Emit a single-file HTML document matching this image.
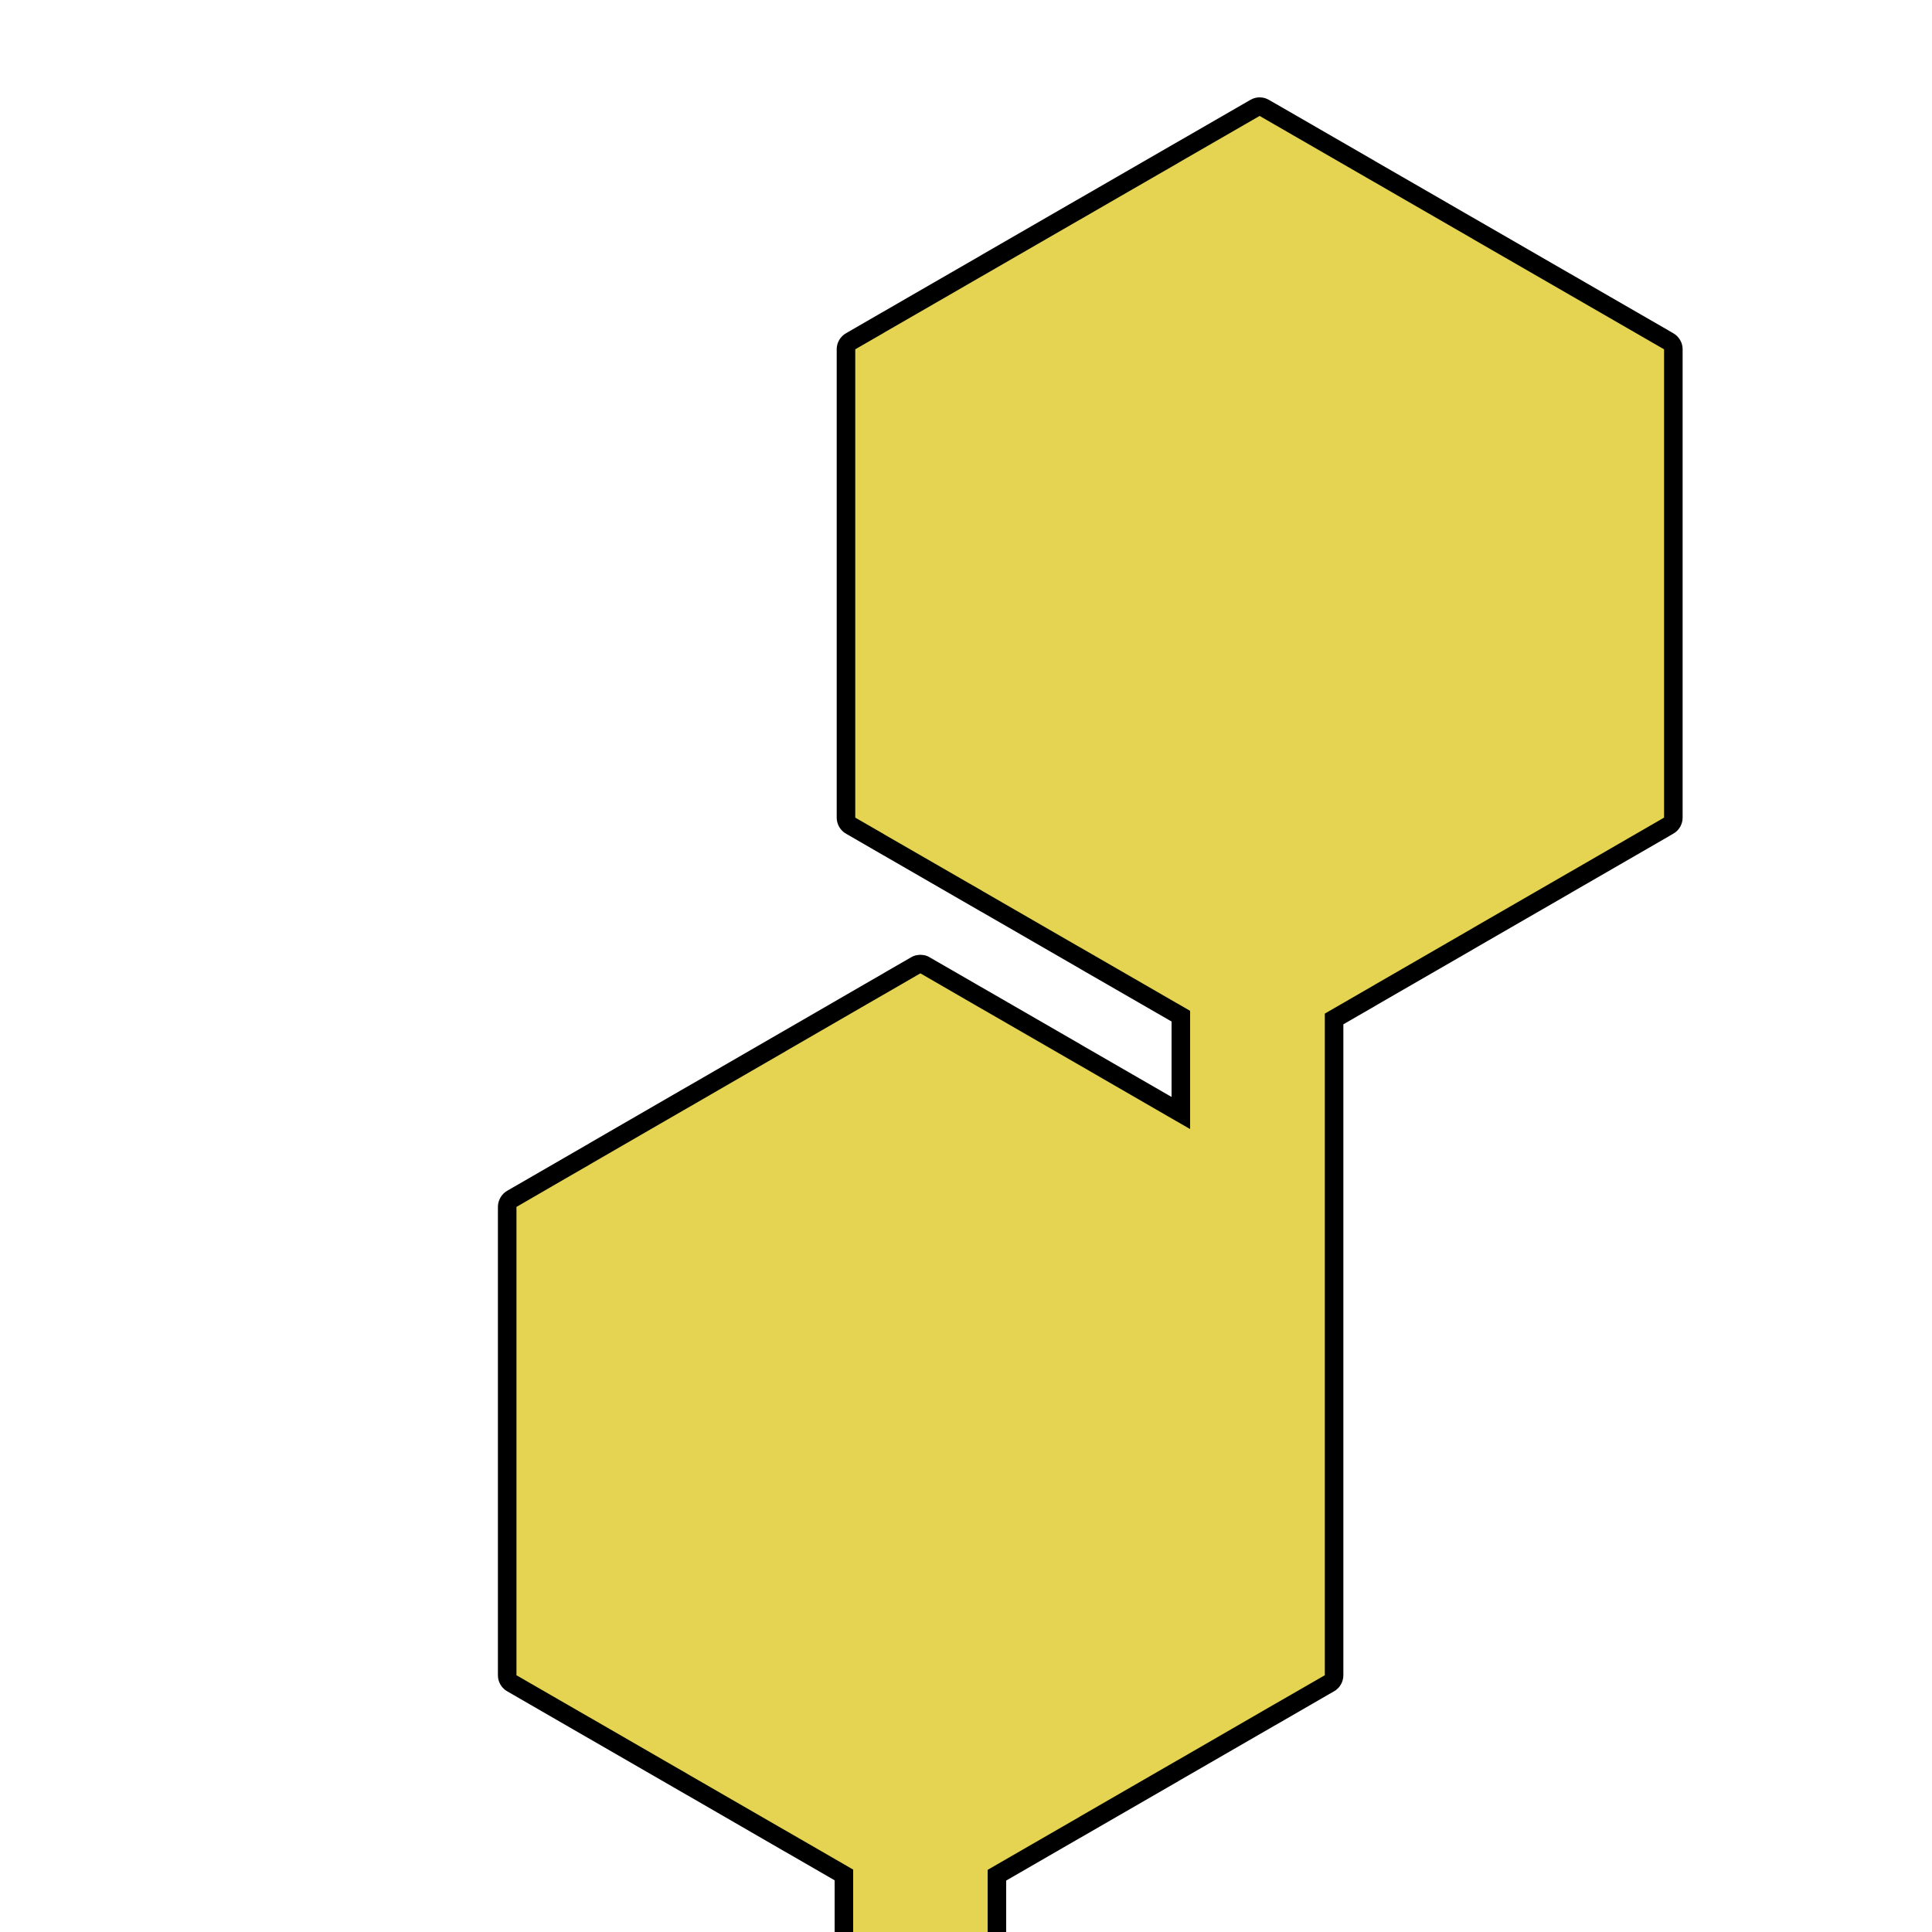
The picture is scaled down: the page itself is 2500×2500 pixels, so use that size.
<!DOCTYPE html>
<html lang="en">
<head>
<meta charset="utf-8">
<title>Merged hexagon shape</title>
<style>
  html, body { margin: 0; padding: 0; background: #ffffff; }
  svg { display: block; }
</style>
</head>
<body>
<svg xmlns="http://www.w3.org/2000/svg" width="2500" height="2500" viewBox="0 0 2500 2500">
  <rect x="0" y="0" width="2500" height="2500" fill="#ffffff"/>
  <path
        d="M1630,150 L2153.3,452 L2153.3,1058 L1714.3,1311.6 L1714.3,2167.7 L1278,2419.6 L1278,2560 L1104,2560 L1104,2419.2 L668.3,2167.7 L668.3,1561.7 L1191,1259.5 L1540,1461 L1540,1308 L1106.7,1058 L1106.7,452 Z"
        fill="#e5d452" stroke="#000000" stroke-width="48" stroke-linejoin="round" paint-order="stroke"/>
</svg>
</body>
</html>
